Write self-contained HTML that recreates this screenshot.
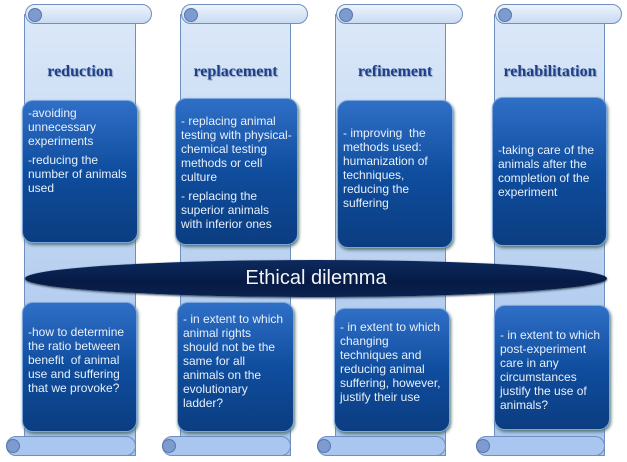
<!DOCTYPE html>
<html><head><style>
body{margin:0;width:627px;height:462px;background:#fff;position:relative;overflow:hidden;font-family:"Liberation Sans",sans-serif}
.a{position:absolute}
.body{background:linear-gradient(#dbe8f8,#b8d0f0 60%,#a9c6f0);border:1.5px solid #6f8fbf;box-sizing:border-box}
.roll{border:1.5px solid #6f8fbf;border-radius:10px;background:linear-gradient(#eef4fc,#c8daf2);box-sizing:border-box}
.curl{width:14px;height:14px;border-radius:50%;background:#7d9bcf;border:1.5px solid #5677ad;box-sizing:border-box}
.h{font-family:"Liberation Serif",serif;font-weight:bold;font-size:16px;color:#1f3f86;text-shadow:1px 1px 1px #8aa2c8;text-align:center}
.box{background:linear-gradient(#2f6fc6,#0f4d9e 50%,#0b3d80);border:1.5px solid #7aa4dc;border-radius:11px;box-sizing:border-box;color:#e8f0fb;font-size:12px;line-height:14px;padding:4px 5px;box-shadow:1px 2px 3px #577}
.box p{margin:0 0 5px}
</style></head><body>
<div class="a body" style="left:24px;top:14px;width:112px;height:442px"></div>
<div class="a roll" style="left:25px;top:4px;width:127px;height:20px"></div>
<div class="a curl" style="left:28px;top:8px"></div>
<div class="a roll" style="left:6px;top:436px;width:130px;height:20px;background:#a9c6f0"></div>
<div class="a curl" style="left:6px;top:439px"></div>

<div class="a body" style="left:180px;top:14px;width:111px;height:442px"></div>
<div class="a roll" style="left:181px;top:4px;width:127px;height:20px"></div>
<div class="a curl" style="left:184px;top:8px"></div>
<div class="a roll" style="left:162px;top:436px;width:129px;height:20px;background:#a9c6f0"></div>
<div class="a curl" style="left:162px;top:439px"></div>

<div class="a body" style="left:335px;top:14px;width:111px;height:442px"></div>
<div class="a roll" style="left:336px;top:4px;width:127px;height:20px"></div>
<div class="a curl" style="left:339px;top:8px"></div>
<div class="a roll" style="left:317px;top:436px;width:129px;height:20px;background:#a9c6f0"></div>
<div class="a curl" style="left:317px;top:439px"></div>

<div class="a body" style="left:494px;top:14px;width:111px;height:442px"></div>
<div class="a roll" style="left:495px;top:4px;width:127px;height:20px"></div>
<div class="a curl" style="left:498px;top:8px"></div>
<div class="a roll" style="left:476px;top:436px;width:129px;height:20px;background:#a9c6f0"></div>
<div class="a curl" style="left:476px;top:439px"></div>

<div class="a h" style="left:24px;top:63px;width:112px">reduction</div>
<div class="a h" style="left:180px;top:63px;width:111px">replacement</div>
<div class="a h" style="left:335px;top:63px;width:120px">refinement</div>
<div class="a h" style="left:486px;top:63px;width:128px">rehabilitation</div>

<div class="a box" style="left:22px;top:100px;width:116px;height:143px;padding-top:5px"><p>-avoiding unnecessary experiments</p><p>-reducing the number of animals used</p></div>
<div class="a box" style="left:175px;top:98px;width:123px;height:147px;padding-top:15px"><p>- replacing animal testing with physical-chemical testing methods or cell culture</p><p>- replacing the superior animals with inferior ones</p></div>
<div class="a box" style="left:337px;top:100px;width:116px;height:148px;padding-top:25px"><p>- improving &nbsp;the methods used: humanization of techniques, reducing the suffering</p></div>
<div class="a box" style="left:492px;top:97px;width:115px;height:149px;padding-top:45px"><p>-taking care of the animals after the completion of the experiment</p></div>

<div class="a" style="left:25px;top:260px;width:582px;height:37px;border-radius:50%;background:linear-gradient(#0d2a5e,#061a44 60%,#0b2250);box-shadow:0 1px 2px #345"></div>
<div class="a" style="left:25px;top:267px;width:582px;text-align:center;color:#f2f4f8;font-size:20px">Ethical dilemma</div>

<div class="a box" style="left:22px;top:302px;width:115px;height:130px;padding-top:22px"><p>-how to determine the ratio between benefit &nbsp;of animal use and suffering that we provoke?</p></div>
<div class="a box" style="left:177px;top:302px;width:117px;height:130px;padding-top:9px"><p>- in extent to which animal rights should not be the same for all animals on the evolutionary ladder?</p></div>
<div class="a box" style="left:334px;top:308px;width:116px;height:124px;padding-top:11px"><p>- in extent to which changing techniques and reducing animal suffering, however, justify their use</p></div>
<div class="a box" style="left:494px;top:305px;width:116px;height:125px;padding-top:22px"><p>- in extent to which post-experiment care in any circumstances justify the use of animals?</p></div>
</body></html>
